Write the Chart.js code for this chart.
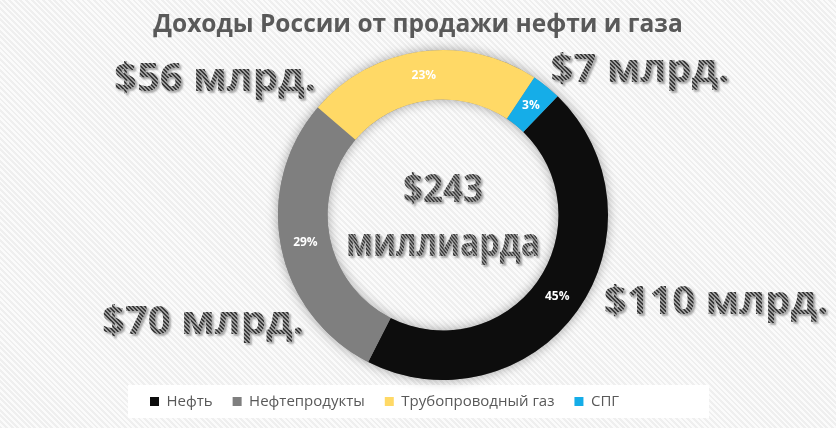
<!DOCTYPE html>
<html>
<head>
<meta charset="utf-8">
<script src="https://cdn.jsdelivr.net/npm/chart.js@4.4.1/dist/chart.umd.min.js"></script>
<style>
html, body { margin: 0; padding: 0; }
body {
  width: 836px; height: 428px; overflow: hidden;
  background: repeating-linear-gradient(45deg, #efefef 0px, #efefef 2px, #fbfbfb 2px, #fbfbfb 4px);
}
#wrap { position: relative; width: 836px; height: 428px; }
</style>
</head>
<body>
<div id="wrap"><canvas id="chart" width="836" height="428"></canvas></div>
<script>
// data, billions of USD
var categories = ["Нефть", "Нефтепродукты", "Трубопроводный газ", "СПГ"];
var revenues = [110, 70, 56, 7];
var colors = ["#0d0d0d", "#7f7f7f", "#ffd966", "#15ade8"];
var titleText = "Доходы России от продажи нефти и газа";
var unitText = " млрд.";
var totalWord = "миллиарда";

// where the big value captions sit, relative to the ring centre
var captionOffsets = [[273, 88], [-240, 108], [-228, -135], [197, -144]];

var total = revenues.reduce(function (a, b) { return a + b; }, 0);

// striped grey fill used by the big captions
function stripePattern(ctx) {
  var p = document.createElement("canvas");
  p.width = 4; p.height = 4;
  var pc = p.getContext("2d");
  pc.fillStyle = "#3a3a3a";
  pc.fillRect(0, 0, 4, 4);
  pc.fillStyle = "#9c9c9c";
  for (var i = 0; i < 4; i++) {
    pc.fillRect(i, i, 1, 1);
    pc.fillRect((i + 1) % 4, i, 1, 1);
  }
  return ctx.createPattern(p, "repeat");
}

function bigText(ctx, txt, x, y, maxW) {
  ctx.save();
  ctx.font = "bold 40px 'Open Sans'";
  ctx.textAlign = "center";
  ctx.textBaseline = "middle";
  ctx.shadowColor = "rgba(0,0,0,0.3)";
  ctx.shadowOffsetX = 2;
  ctx.shadowOffsetY = 2;
  ctx.shadowBlur = 2;
  ctx.fillStyle = stripePattern(ctx);
  if (maxW) ctx.fillText(txt, x, y, maxW);
  else ctx.fillText(txt, x, y);
  ctx.restore();
}

var titlePlugin = {
  id: "titlePlugin",
  afterDraw: function (chart) {
    var ctx = chart.ctx;
    ctx.save();
    ctx.font = "bold 24.5px 'Open Sans'";
    ctx.fillStyle = "#595959";
    ctx.textAlign = "center";
    ctx.textBaseline = "middle";
    ctx.fillText(titleText, chart.width / 2, 25);
    ctx.restore();
  }
};

var ringShadow = {
  id: "ringShadow",
  beforeDatasetsDraw: function (chart) {
    var arc = chart.getDatasetMeta(0).data[0];
    if (!arc) return;
    var ctx = chart.ctx;
    ctx.save();
    ctx.shadowColor = "rgba(0,0,0,0.35)";
    ctx.shadowBlur = 12;
    ctx.fillStyle = "#888";
    ctx.beginPath();
    ctx.arc(arc.x, arc.y, arc.outerRadius, 0, Math.PI * 2);
    ctx.arc(arc.x, arc.y, arc.innerRadius, 0, Math.PI * 2, true);
    ctx.fill();
    ctx.restore();
  }
};

var legendBox = {
  id: "legendBox",
  beforeDraw: function (chart) {
    var boxes = chart.legend.legendHitBoxes;
    if (!boxes || !boxes.length) return;
    var l = boxes[0].left, r = boxes[boxes.length - 1].left + boxes[boxes.length - 1].width;
    var t = boxes[0].top, h = boxes[0].height;
    var ctx = chart.ctx;
    ctx.save();
    ctx.fillStyle = "#ffffff";
    ctx.fillRect(l - 22, t - 9, r - l + 112, h + 18);
    ctx.restore();
  }
};

var labels = {
  id: "labels",
  afterDatasetsDraw: function (chart) {
    var ctx = chart.ctx;
    var meta = chart.getDatasetMeta(0);
    var cx = meta.data[0].x, cy = meta.data[0].y;
    // percentages inside the ring
    meta.data.forEach(function (arc, i) {
      var pos = arc.tooltipPosition();
      ctx.save();
      ctx.font = "bold 12px 'Open Sans'";
      ctx.fillStyle = "#ffffff";
      ctx.textAlign = "center";
      ctx.textBaseline = "middle";
      ctx.fillText(Math.round(revenues[i] / total * 100) + "%", pos.x, pos.y);
      ctx.restore();
    });
    // big captions
    revenues.forEach(function (v, i) {
      bigText(ctx, "$" + v + unitText, cx + captionOffsets[i][0], cy + captionOffsets[i][1]);
    });
    bigText(ctx, "$" + total, cx, cy - 24, 80);
    bigText(ctx, totalWord, cx, cy + 30, 194);
  }
};

var chart = new Chart(document.getElementById("chart"), {
  type: "doughnut",
  data: {
    labels: categories,
    datasets: [{
      data: revenues,
      backgroundColor: colors,
      borderWidth: 0,
      radius: 165
    }]
  },
  options: {
    responsive: false,
    animation: false,
    rotation: 44,
    cutout: "70%",
    layout: { padding: { left: 130, right: 80, top: 56, bottom: 9 } },
    plugins: {
      title: { display: false },
      legend: {
        position: "bottom",
        align: "start",
        labels: {
          boxWidth: 9,
          boxHeight: 9,
          color: "#595959",
          font: { family: "'Open Sans'", size: 15 },
          padding: 20
        }
      },
      tooltip: { enabled: false }
    }
  },
  plugins: [titlePlugin, ringShadow, legendBox, labels]
});
</script>
</body>
</html>
